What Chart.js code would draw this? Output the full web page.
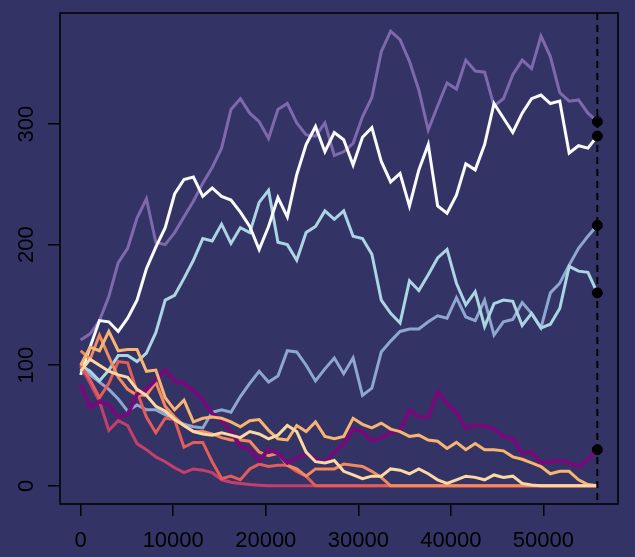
<!DOCTYPE html>
<html>
<head>
<meta charset="utf-8">
<script src="https://cdn.jsdelivr.net/npm/chart.js@4/dist/chart.umd.min.js"></script>
<style>
  html, body { margin: 0; padding: 0; background: #333366; }
  #wrap { width: 635px; height: 557px; }
</style>
</head>
<body>
<div id="wrap"><canvas id="chart" width="635" height="557"></canvas></div>
<script>
// x positions of the simulation steps
const steps = [0,1015,2030,3045,4060,5075,6090,7105,8120,9135,10150,11165,12180,13195,14210,15225,16240,17255,18270,19285,20300,21315,22330,23345,24360,25375,26390,27405,28420,29435,30450,31465,32480,33495,34510,35525,36540,37555,38570,39585,40600,41615,42630,43645,44660,45675,46690,47705,48720,49735,50750,51765,52780,53795,54810,55825];

const lavender = [121,126,137,157,185,197,222,238,202,200,210,223,236,251,264,280,312,321,309,302,288,312,317,301,291,290,301,274,277,284,306,322,360,377,370,352,328,295,315,334,329,353,344,343,315,321,341,353,346,373,356,326,319,320,309,302];
const white = [92,115,137,136,128,139,154,180,198,214,242,254,256,240,247,240,237,227,215,196,215,239,223,258,283,298,277,293,287,266,289,297,269,252,259,232,262,283,232,226,241,267,262,283,317,305,293,309,321,324,317,319,276,282,280,290];
const lightBlue = [100,95,87,96,108,108,103,110,127,154,158,172,187,205,203,217,201,214,210,235,245,202,200,187,210,215,228,221,228,207,205,192,154,143,135,170,162,175,189,196,168,150,161,132,151,154,153,133,143,131,134,147,182,178,177,160];
const steelBlue = [100,92,86,80,72,62,67,63,63,59,55,51,49,48,61,63,61,74,85,95,86,91,112,111,100,87,97,106,93,106,75,81,111,120,128,130,130,136,141,139,156,140,137,154,125,136,138,152,143,131,160,168,183,197,207,216];
const purple = [84,65,70,67,57,59,76,80,88,96,87,85,79,71,60,54,45,33,30,21,30,27,19,23,27,22,19,28,35,47,45,37,40,44,46,63,57,57,78,68,61,48,50,50,47,41,39,27,28,19,20,21,19,16,22,30];
const crimson = [99,85,70,46,54,50,35,30,24,20,15,11,14,13,11,5,3,2,1,0.5,0,0,0,0,0,0,0,0,0,0,0,0,0,0,0,0,0,0,0,0,0,0,0,0,0,0,0,0,0,0,0,0,0,0,0,0];
const red = [100,88,73,85,103,102,78,57,44,56,55,32,36,36,20,6,8,5,14,18,16,17,17,12,8,0,0,0,0,0,0,0,0,0,0,0,0,0,0,0,0,0,0,0,0,0,0,0,0,0,0,0,0,0,0,0];
const orange = [112,105,125,107,90,80,75,75,86,66,57,50,45,45,43,40,38,38,37,28,25,27,17,14,8,14,14,14,18,17,16,12,7,0,0,0,0,0,0,0,0,0,0,0,0,0,0,0,0,0,0,0,0,0,0,0];
const lightOrange = [100,115,112,128,112,113,113,95,96,73,63,71,53,56,57,56,53,49,54,55,46,39,38,50,45,53,41,39,41,56,51,48,52,47,45,41,42,38,37,31,36,30,35,30,30,29,24,22,19,16,10,12,12,5,1,0];
const cream = [95,105,100,95,92,90,80,75,66,62,55,50,45,43,42,44,42,40,45,43,39,42,50,45,28,20,19,21,12,9,6,8,8,14,13,10,14,10,5,2,5,8,7,5,9,7,8,2,0.7,0,0,0,0,0,0,0];

const xTicks = [0, 10000, 20000, 30000, 40000, 50000];
const yTicks = [0, 100, 200, 300];

// series drawn bottom -> top
const series = [
  { name: 'lavender', data: lavender, color: '#7d69ab', width: 3, dot: true },
  { name: 'steelBlue', data: steelBlue, color: '#8ea7cf', width: 3, dot: true },
  { name: 'lightBlue', data: lightBlue, color: '#acd5e4', width: 3, dot: true },
  { name: 'white', data: white, color: '#fbfbfd', width: 3, dot: true },
  { name: 'crimson', data: crimson, color: '#c43f6b', width: 3, dot: false },
  { name: 'red', data: red, color: '#e35d5b', width: 3, dot: false },
  { name: 'orange', data: orange, color: '#f3895e', width: 3, dot: false },
  { name: 'purple', data: purple, color: '#770a7a', width: 4, dot: true },
  { name: 'lightOrange', data: lightOrange, color: '#f8b571', width: 3, dot: false },
  { name: 'cream', data: cream, color: '#fcd9a2', width: 3, dot: false },
];

const BG = '#333366';
const FONT = '22px "Liberation Sans", Arial, sans-serif';
const lastX = steps[steps.length - 1];
const allVals = series.flatMap(s => s.data);
const yMax = Math.max(...allVals), yMin = Math.min(...allVals);
// R style 4% axis padding
const xPad = 0.04 * (lastX - steps[0]), yPad = 0.04 * (yMax - yMin);

const lineSets = series.map((s, i) => ({
  type: 'line',
  label: s.name,
  data: steps.map((x, j) => ({ x, y: s.data[j] })),
  borderColor: s.color,
  borderWidth: s.width,
  pointRadius: 0,
  tension: 0,
  order: series.length - i + 1,
}));

const dotSet = {
  type: 'scatter',
  label: 'ends',
  data: series.filter(s => s.dot).map(s => ({ x: lastX, y: s.data[s.data.length - 1] })),
  backgroundColor: '#000',
  borderColor: '#000',
  pointRadius: 5,
  order: 0,
};

const frame = {
  id: 'frame',
  beforeDraw(chart) {
    const c = chart.ctx;
    c.save();
    c.fillStyle = BG;
    c.fillRect(0, 0, chart.width, chart.height);
    c.restore();
  },
  afterDatasetsDraw(chart) {
    const { ctx: c, chartArea: a, scales } = chart;
    const xs = scales.x, ys = scales.y;
    c.save();
    // dashed marker at the last step
    const px = xs.getPixelForValue(lastX);
    c.strokeStyle = '#000';
    c.lineWidth = 2;
    c.setLineDash([7, 5]);
    c.beginPath(); c.moveTo(px, a.top); c.lineTo(px, a.bottom); c.stroke();
    c.setLineDash([]);
    // box
    c.lineWidth = 1.5;
    c.strokeRect(a.left, a.top, a.right - a.left, a.bottom - a.top);
    // tick labels
    c.fillStyle = '#000';
    c.font = FONT;
    c.textAlign = 'center';
    c.textBaseline = 'alphabetic';
    xTicks.forEach(v => c.fillText(String(v), xs.getPixelForValue(v), 547));
    yTicks.forEach(v => {
      c.save();
      c.translate(33, ys.getPixelForValue(v));
      c.rotate(-Math.PI / 2);
      c.fillText(String(v), 0, 0);
      c.restore();
    });
    c.restore();
  }
};

const tickGrid = { display: true, drawOnChartArea: false, drawTicks: true, tickLength: 12, color: '#000', lineWidth: 1.5 };

new Chart(document.getElementById('chart'), {
  data: { datasets: [dotSet, ...lineSets] },
  options: {
    responsive: false,
    devicePixelRatio: 1,
    animation: false,
    layout: { padding: { left: 0, top: 13, right: 17, bottom: 0 } },
    plugins: { legend: { display: false }, tooltip: { enabled: false } },
    scales: {
      x: {
        type: 'linear', min: steps[0] - xPad, max: lastX + xPad,
        grid: tickGrid, border: { display: false },
        ticks: { display: false },
        afterBuildTicks: s => { s.ticks = xTicks.map(value => ({ value })); },
        afterFit: s => { s.height = 53; },
      },
      y: {
        type: 'linear', min: yMin - yPad, max: yMax + yPad,
        grid: tickGrid, border: { display: false },
        ticks: { display: false },
        afterBuildTicks: s => { s.ticks = yTicks.map(value => ({ value })); },
        afterFit: s => { s.width = 60; },
      }
    }
  },
  plugins: [frame]
});
</script>
</body>
</html>
